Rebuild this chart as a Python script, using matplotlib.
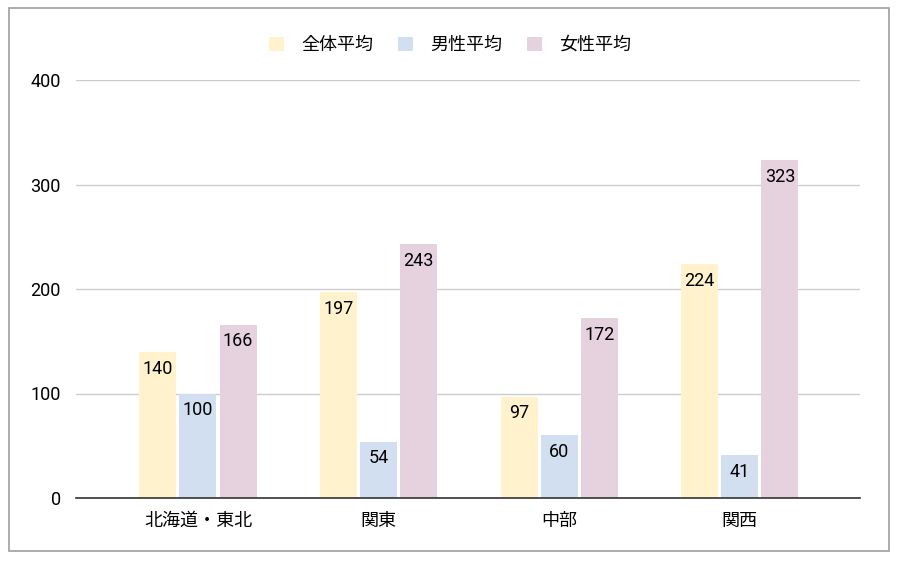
import matplotlib.pyplot as plt
from matplotlib.patches import Rectangle, Patch
import numpy as np

plt.rcParams['font.family'] = ['Roboto', 'Noto Sans CJK JP', 'DejaVu Sans']

regions = ['北海道・東北', '関東', '中部', '関西']
series_names = ['全体平均', '男性平均', '女性平均']
overall = [140, 197, 97, 224]
male = [100, 54, 60, 41]
female = [166, 243, 172, 323]

colors = [
    "#FFF2CC",  # yellow
    "#D2DFF0",  # blue
    "#E6D1DE",  # pink
]

fig = plt.figure(figsize=[9, 5.65], dpi=100)
# outer grey frame
fig.patches.append(Rectangle((9 / 900, 1 - 551 / 565), 880 / 900, 543 / 565,
                             transform=fig.transFigure, fill=False,
                             edgecolor='#9e9e9e', linewidth=1.2))

ax = fig.add_axes([76 / 900, 1 - 498 / 565, 784 / 900, 418 / 565])

x = np.arange(len(regions))
width = 0.205
offsets = [-0.222, 0, 0.222]
for values, off, color, name in zip([overall, male, female], offsets, colors, series_names):
    bars = ax.bar(x + off, values, width=width, color=color, label=name, zorder=2)
    for b, v in zip(bars, values):
        ax.text(b.get_x() + b.get_width() / 2, v - 7.5, str(v), ha='center', va='top',
                fontsize=13, color='#000000', zorder=3)

ax.set_ylim(0, 400)
ax.set_xlim(-0.675, 3.665)
ax.set_yticks([0, 100, 200, 300, 400])
ax.set_xticks(x)
ax.set_xticklabels(regions, fontsize=13)
ax.tick_params(axis='y', length=0, pad=11, labelsize=13)
ax.tick_params(axis='x', length=0, pad=10)
ax.grid(axis='y', color='#cccccc', linewidth=1, zorder=0)
for s in ['top', 'right', 'left']:
    ax.spines[s].set_visible(False)
ax.spines['bottom'].set_color('#333333')
ax.spines['bottom'].set_linewidth(1.2)
ax.spines['bottom'].set_zorder(4)

handles = [Patch(facecolor=c, edgecolor='none') for c in colors]
fig.legend(handles, series_names, loc='center', bbox_to_anchor=(0.5, 1 - 45 / 565),
           ncol=3, frameon=False, fontsize=13, handlelength=0.85, handleheight=0.85,
           handletextpad=0.95, columnspacing=1.35)

plt.savefig('out.png', dpi=100)
